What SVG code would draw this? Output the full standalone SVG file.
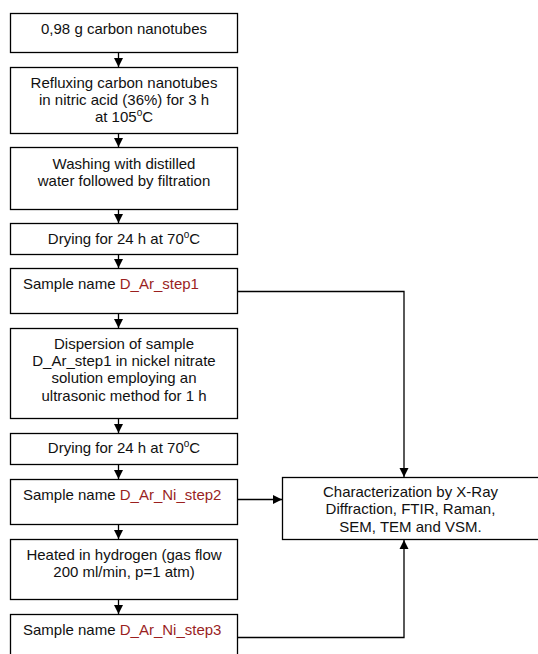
<svg xmlns="http://www.w3.org/2000/svg" width="538" height="654" viewBox="0 0 538 654">
<style>
.box{fill:#fff;stroke:#000;stroke-width:1.3}
.t{font-family:"Liberation Sans",Arial,sans-serif;font-size:15px;fill:#111}
.c{text-anchor:middle}
.red{fill:#9a1f1f}
.ln{fill:none;stroke:#000;stroke-width:1.3}
</style>
<defs>
<marker id="ah" markerUnits="userSpaceOnUse" markerWidth="10" markerHeight="10" viewBox="0 0 10 10" refX="9" refY="5" orient="auto">
<path d="M0,0.5 L9,5 L0,9.5 Z" fill="#000"/>
</marker>
</defs>
<rect width="538" height="654" fill="#fff"/>
<g id="connectors">
<line class="ln" x1="118.5" y1="52" x2="118.5" y2="67" marker-end="url(#ah)"/>
<line class="ln" x1="118.5" y1="133" x2="118.5" y2="147" marker-end="url(#ah)"/>
<line class="ln" x1="118.5" y1="209" x2="118.5" y2="223" marker-end="url(#ah)"/>
<line class="ln" x1="118.5" y1="254" x2="118.5" y2="268" marker-end="url(#ah)"/>
<line class="ln" x1="118.5" y1="313" x2="118.5" y2="328" marker-end="url(#ah)"/>
<line class="ln" x1="118.5" y1="418" x2="118.5" y2="433" marker-end="url(#ah)"/>
<line class="ln" x1="118.5" y1="464" x2="118.5" y2="479" marker-end="url(#ah)"/>
<line class="ln" x1="118.5" y1="524" x2="118.5" y2="539" marker-end="url(#ah)"/>
<line class="ln" x1="118.5" y1="599" x2="118.5" y2="614" marker-end="url(#ah)"/>
<polyline class="ln" points="238,291.5 404,291.5 404,477" marker-end="url(#ah)"/>
<line class="ln" x1="238" y1="499.5" x2="282" y2="499.5" marker-end="url(#ah)"/>
<polyline class="ln" points="238,637.5 404,637.5 404,540" marker-end="url(#ah)"/>
</g>
<g id="n1"><rect class="box" x="10.5" y="13.5" width="227" height="39"/>
<text class="t c" x="124" y="33.5">0,98 g carbon nanotubes</text></g>
<g id="n2"><rect class="box" x="10.5" y="67.5" width="227" height="66"/>
<text class="t c" x="124" y="87.5">Refluxing carbon nanotubes</text>
<text class="t c" x="124" y="104.8">in nitric acid (36%) for 3 h</text>
<text class="t c" x="124" y="122">at 105<tspan dy="-6" font-size="10">o</tspan><tspan dy="6">C</tspan></text></g>
<g id="n3"><rect class="box" x="10.5" y="147.5" width="227" height="62"/>
<text class="t c" x="124" y="168.5">Washing with distilled</text>
<text class="t c" x="124" y="185.8">water followed by filtration</text></g>
<g id="n4"><rect class="box" x="10.5" y="223.5" width="227" height="31"/>
<text class="t c" x="124" y="243.5">Drying for 24 h at 70<tspan dy="-6" font-size="10">o</tspan><tspan dy="6">C</tspan></text></g>
<g id="n5"><rect class="box" x="10.5" y="268.5" width="227" height="45"/>
<text class="t" x="23" y="289.3">Sample name <tspan class="red">D_Ar_step1</tspan></text></g>
<g id="n6"><rect class="box" x="10.5" y="328.5" width="227" height="90"/>
<text class="t c" x="124" y="348.5">Dispersion of sample</text>
<text class="t c" x="124" y="366">D_Ar_step1 in nickel nitrate</text>
<text class="t c" x="124" y="383.3">solution employing an</text>
<text class="t c" x="124" y="400.7">ultrasonic method for 1 h</text></g>
<g id="n7"><rect class="box" x="10.5" y="433.5" width="227" height="31"/>
<text class="t c" x="124" y="452.5">Drying for 24 h at 70<tspan dy="-6" font-size="10">o</tspan><tspan dy="6">C</tspan></text></g>
<g id="n8"><rect class="box" x="10.5" y="479.5" width="227" height="45"/>
<text class="t" x="23" y="499.5">Sample name <tspan class="red">D_Ar_Ni_step2</tspan></text></g>
<g id="n9"><rect class="box" x="10.5" y="539.5" width="227" height="60"/>
<text class="t c" x="124" y="560">Heated in hydrogen (gas flow</text>
<text class="t c" x="124" y="577.3">200 ml/min, p=1 atm)</text></g>
<g id="n10"><rect class="box" x="10.5" y="614.5" width="227" height="60"/>
<text class="t" x="23" y="634.5">Sample name <tspan class="red">D_Ar_Ni_step3</tspan></text></g>
<g id="n11"><rect class="box" x="282.5" y="477.5" width="260" height="62"/>
<text class="t c" x="410.5" y="496.8">Characterization by X-Ray</text>
<text class="t c" x="410.5" y="514.3">Diffraction, FTIR, Raman,</text>
<text class="t c" x="410.5" y="531.7">SEM, TEM and VSM.</text></g>
</svg>
